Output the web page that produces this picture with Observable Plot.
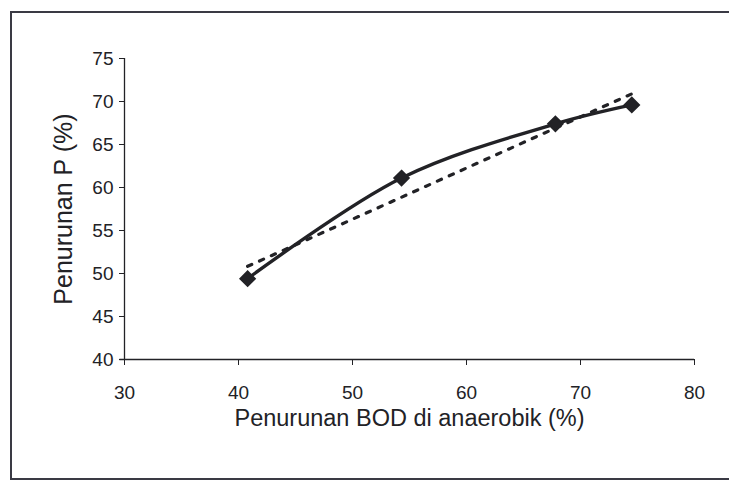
<!DOCTYPE html>
<html>
<head>
<meta charset="utf-8">
<script src="https://cdn.jsdelivr.net/npm/d3@7"></script>
<script src="https://cdn.jsdelivr.net/npm/@observablehq/plot@0.6"></script>
<style>
  html, body { margin: 0; padding: 0; background: #fff; }
  #wrap { position: relative; width: 729px; height: 483px; overflow: hidden; }
  #box {
    position: absolute; left: 10px; top: 11px; width: 760px; height: 469px;
    border-left: 2px solid #3a3a44; border-top: 2px solid #3a3a44; border-bottom: 2px solid #3a3a44;
    box-sizing: border-box;
  }
  #chart { position: absolute; left: 0; top: 0; }
</style>
</head>
<body>
<div id="wrap"><div id="box"></div><div id="chart"></div></div>
<script>
// BOD removal in the anaerobic stage vs. phosphorus removal (%)
const bodRemoval = [40.8, 54.3, 67.8, 74.5];
const pRemoval = [49.4, 61.1, 67.4, 69.6];
const xTicks = [30, 40, 50, 60, 70, 80];
const yTicks = [40, 45, 50, 55, 60, 65, 70, 75];
const xLabel = "Penurunan BOD di anaerobik (%)";
const yLabel = "Penurunan P (%)";

const rows = bodRemoval.map((x, i) => ({x, y: pRemoval[i]}));
const ink = "#222226";

const chart = Plot.plot({
  width: 729,
  height: 483,
  marginLeft: 124,
  marginRight: 35,
  marginTop: 58,
  marginBottom: 124,
  style: {fontFamily: "Liberation Sans, Arial, sans-serif", fontSize: "19px", color: ink, background: "transparent"},
  x: {domain: [30, 80]},
  y: {domain: [40, 75]},
  marks: [
    Plot.axisX({ticks: xTicks, tickSize: 6, tickPadding: 20, fontSize: 19, label: null, stroke: ink, fill: ink}),
    Plot.axisY({ticks: yTicks, tickSize: 5, tickPadding: 6, fontSize: 19, label: null, stroke: ink, fill: ink}),
    Plot.ruleY([40], {stroke: ink, strokeWidth: 1.3, x1: 29.6, x2: 80}),
    Plot.ruleX([30], {stroke: ink, strokeWidth: 1.3}),
    Plot.linearRegressionY(rows, {x: "x", y: "y", ci: 0, stroke: ink, strokeWidth: 3.2, strokeDasharray: "4.5,8.5"}),
    Plot.line(rows, {x: "x", y: "y", curve: "catmull-rom", stroke: ink, strokeWidth: 3.4}),
    Plot.dot(rows, {x: "x", y: "y", symbol: "diamond2", r: 6.5, fill: ink, stroke: ink, strokeWidth: 2}),
    Plot.text([xLabel], {frameAnchor: "bottom", lineAnchor: "middle", dy: 59, fontSize: 23.5, fill: ink}),
    Plot.text([yLabel], {frameAnchor: "left", textAnchor: "middle", lineAnchor: "middle", dx: -61, rotate: -90, fontSize: 25, fill: ink})
  ]
});
document.getElementById("chart").appendChild(chart);
</script>
</body>
</html>
